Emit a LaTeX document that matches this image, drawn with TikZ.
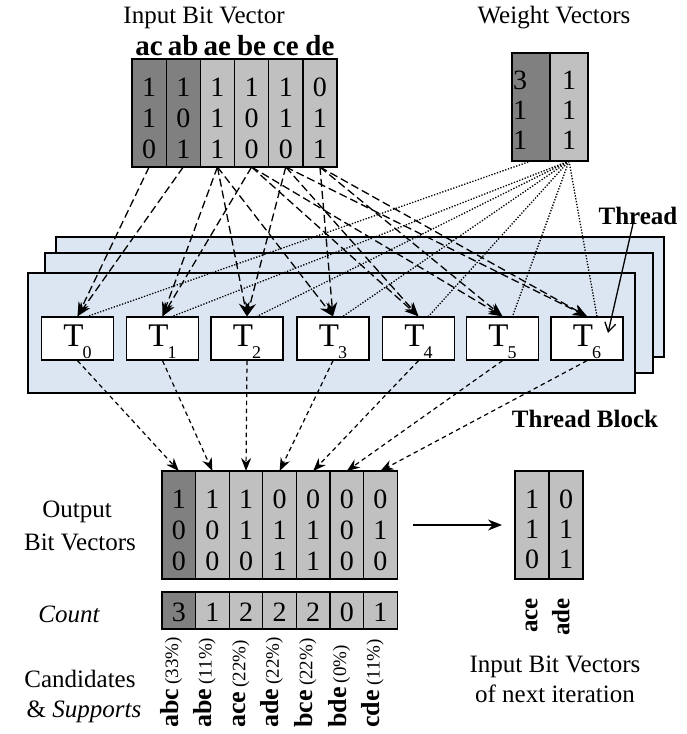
\documentclass[tikz,border=0pt]{standalone}
\usepackage{fontspec}
\setmainfont{Liberation Serif}
\usetikzlibrary{arrows.meta,calc}
\definecolor{darkcell}{HTML}{808080}
\definecolor{lightcell}{HTML}{C0C0C0}
\definecolor{blockfill}{HTML}{DCE6F2}
\newcommand{\sz}[1]{\fontsize{#1}{#1}\selectfont}
\pgfdeclarelayer{blocks}
\pgfdeclarelayer{links}
\pgfsetlayers{blocks,links,main}
\tikzset{
  cell/.style={draw=black, line width=1.3pt, inner sep=0pt, outer sep=0pt, minimum width=34.17pt},
  digit/.style={inner sep=0pt, anchor=base, font=\sz{28}},
  txt/.style={inner sep=0pt, anchor=base, font=\sz{25}},
  boldtxt/.style={inner sep=0pt, anchor=base, font=\sz{25}\bfseries},
  blockrect/.style={draw=black, line width=1.5pt, fill=blockfill},
  thrbox/.style={draw=black, line width=1.3pt, fill=white, minimum width=72pt, minimum height=43pt, inner sep=0pt},
  feed/.style={line width=1.3pt, dash pattern=on 8pt off 4pt, -{Stealth[length=14pt,width=11pt]}},
  wfeed/.style={line width=1.3pt, dash pattern=on 1.3pt off 1.6pt},
  outfeed/.style={line width=1.2pt, dash pattern=on 4.5pt off 3.5pt, -{Stealth[length=13pt,width=10pt]}},
  cand/.style={rotate=90, anchor=mid west, inner sep=0pt},
}
\begin{document}
\begin{tikzpicture}[x=1pt,y=-1pt]
\useasboundingbox (0,0) rectangle (686,734);

% titles
\node[txt] (ttlin) at (204,23) {Input Bit Vector};
\node[txt] (ttlw) at (554,23) {Weight Vectors};

% input bit vectors
\foreach \n/\c/\a/\b/\d [count=\i] in {ac/darkcell/1/1/0, ab/darkcell/1/0/1, ae/lightcell/1/1/1, be/lightcell/1/0/0, ce/lightcell/1/1/0, de/lightcell/0/1/1}{
  \node[cell, fill=\c, minimum height=108pt] (in-\n) at ({132+34.17*(\i-0.5)},113) {};
  \node[boldtxt, font=\sz{29}\bfseries] at ($(in-\n.north)+(0,-4)$) {\n};
  \node[digit] at ($(in-\n.north)+(0,37)$) {\a};
  \node[digit] at ($(in-\n.north)+(0,68)$) {\b};
  \node[digit] at ($(in-\n.north)+(0,99)$) {\d};
}

% weight vectors
\node[cell, fill=darkcell, minimum width=38pt, minimum height=108pt] (w1) at (531,107) {};
\node[cell, fill=lightcell, minimum width=38pt, minimum height=108pt] (w2) at (569,107) {};
\foreach \v/\yy in {3/89, 1/119, 1/149}{
  \node[digit, anchor=base west] at (513,\yy) {\v};
}
\foreach \yy in {89,119,149}{
  \node[digit] at (569,\yy) {1};
}

% thread block (three stacked blocks)
\begin{pgfonlayer}{blocks}
\draw[blockrect] (56,237) rectangle (664,357);
\draw[blockrect] (45,253) rectangle (653,373);
\draw[blockrect] (28,273) rectangle (635,393);
\end{pgfonlayer}

% threads
\foreach \x [count=\i from 0] in {77.5,162.5,247,333,418.5,502.5,587}{
  \node[thrbox] (T\i) at (\x,338.5) {};
  \node[inner sep=0pt, anchor=base] at (\x,346) {\sz{33}T\kern-1pt\raisebox{-12pt}{\sz{18}\i}};
}

% feeds from the input vectors and the weights
\begin{pgfonlayer}{links}
\foreach \s/\t in {ac/0, ab/0, ae/1, be/1, ae/2, ce/2, ae/3, de/3, be/4, ce/4, be/5, de/5, ce/6, de/6}{
  \draw[feed] (in-\s.south) -- (T\t.north);
}
\draw[wfeed] (w1.south) -- ([xshift=10pt]T0.north);
\foreach \t in {1,...,6}{
  \draw[wfeed] (w2.south) -- ([xshift=10pt]T\t.north);
}
\end{pgfonlayer}

% labels of the thread block
\node[boldtxt] (thrlab) at (638,224) {Thread};
\coordinate (thrtip) at (608,333);
\draw[line width=1.3pt, -{Straight Barb[length=9pt,width=11pt]}] ([xshift=-4pt,yshift=5pt]thrlab.south) -- (thrtip);
\node[boldtxt] (blklab) at (585,427) {Thread Block};

% output bit vectors and counts
\foreach \c/\a/\b/\d/\k [count=\i] in {darkcell/1/0/0/3, lightcell/1/0/0/1, lightcell/1/1/0/2, lightcell/0/1/1/2, lightcell/0/1/1/2, lightcell/0/0/0/0, lightcell/0/1/0/1}{
  \node[cell, fill=\c, minimum width=33.6pt, minimum height=108pt] (out\i) at ({162+33.6*(\i-0.5)},525) {};
  \node[digit] at ($(out\i.north)+(0,37)$) {\a};
  \node[digit] at ($(out\i.north)+(0,68)$) {\b};
  \node[digit] at ($(out\i.north)+(0,99)$) {\d};
  \node[cell, fill=\c, minimum width=33.6pt, minimum height=37pt] (cnt\i) at ({162+33.6*(\i-0.5)},610.5) {};
  \node[digit] at ($(cnt\i.north)+(0,29)$) {\k};
}

\foreach \i/\j in {0/1,1/2,2/3,3/4,4/5,5/6,6/7}{
  \draw[outfeed] (T\i.south) -- (out\j.north);
}

% candidates and supports
\foreach \n/\p [count=\i] in {abc/33, abe/11, ace/22, ade/22, bce/22, bde/0, cde/11}{
  \node[cand] (cand\i) at ($(cnt\i.south)+(-3,99)$) {\sz{26}\bfseries \n\,{\sz{19}\mdseries(\p\%)}};
}

% row labels
\node[txt] (lout1) at (77,517) {Output};
\node[txt] (lout2) at (80,550) {Bit Vectors};
\node[txt] (lcnt) at (69,622) {\itshape Count};
\node[txt] (lcand1) at (80,687) {Candidates};
\node[txt] (lcand2) at (84,717) {\& \textit{Supports}};

% input bit vectors of the next iteration
\node[cell, fill=lightcell, minimum width=34pt, minimum height=108pt] (nx1) at (532,525) {};
\node[cell, fill=lightcell, minimum width=34pt, minimum height=108pt] (nx2) at (566,525) {};
\foreach \a/\b/\yy in {1/0/37, 1/1/67, 0/1/97}{
  \node[digit] at ($(nx1.north)+(0,\yy)$) {\a};
  \node[digit] at ($(nx2.north)+(0,\yy)$) {\b};
}
\draw[line width=1.3pt, -{Stealth[length=14pt,width=11pt]}] ([xshift=16pt]out7.east) -- ([xshift=-13pt]nx1.west);
\node[cand] (nxl1) at ($(nx1.south)+(3,54)$) {\sz{25}\bfseries ace};
\node[cand] (nxl2) at ($(nx2.south)+(1,57)$) {\sz{25}\bfseries ade};
\node[txt] (nxt1) at (555,672) {Input Bit Vectors};
\node[txt] (nxt2) at (555,702) {of next iteration};
\end{tikzpicture}
\end{document}
